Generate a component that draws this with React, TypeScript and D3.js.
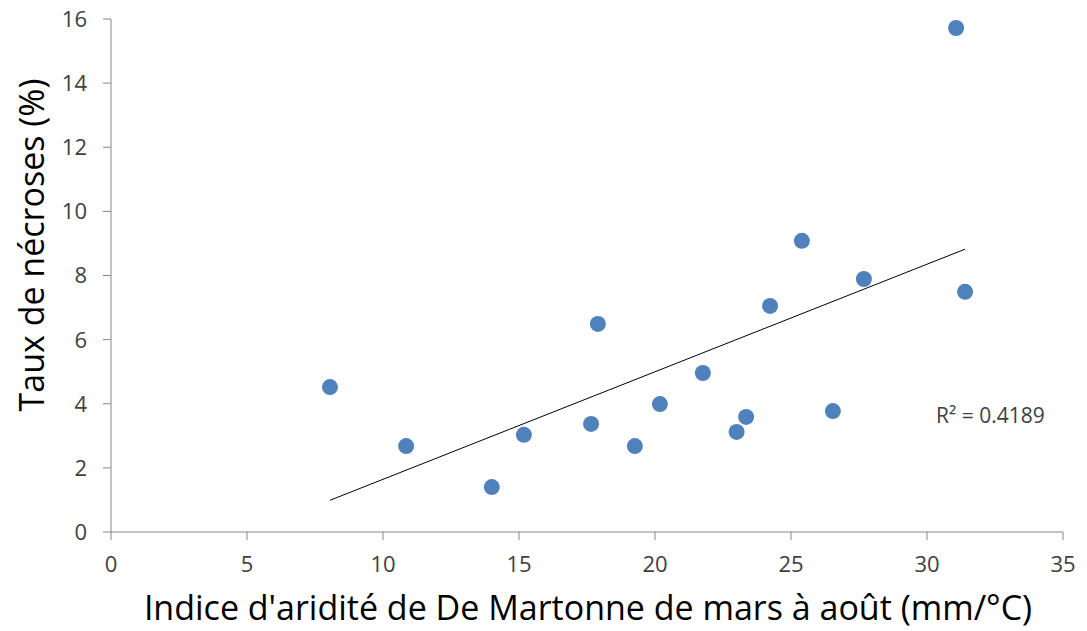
import React from "react";
import * as d3 from "d3";

// Indice d'aridité (mm/°C) and necrosis rate (%) per site
const aridity = [8.05, 10.85, 14.0, 15.18, 17.65, 17.9, 19.26, 20.18, 21.76, 23.0, 23.35, 24.23, 25.4, 26.54, 27.68, 31.07, 31.4];
const necrosis = [4.52, 2.68, 1.4, 3.03, 3.37, 6.49, 2.68, 3.99, 4.96, 3.12, 3.59, 7.05, 9.08, 3.77, 7.89, 15.72, 7.49];
const xTicks = [0, 5, 10, 15, 20, 25, 30, 35];
const yTicks = [0, 2, 4, 6, 8, 10, 12, 14, 16];
const r2Label = "R² = 0.4189";

const W = 1087;
const H = 631;
const FONT = "'Open Sans', 'Liberation Sans', sans-serif";

export default function App() {
  const x = d3.scaleLinear().domain([0, 35]).range([111, 1063]);
  const y = d3.scaleLinear().domain([0, 16]).range([532, 19]);

  // least-squares trend line
  const mx = d3.mean(aridity)!;
  const my = d3.mean(necrosis)!;
  let sxy = 0, sxx = 0;
  aridity.forEach((v, i) => {
    sxy += (v - mx) * (necrosis[i] - my);
    sxx += (v - mx) * (v - mx);
  });
  const slope = sxy / sxx;
  const icpt = my - slope * mx;
  const [x0, x1] = d3.extent(aridity) as [number, number];
  const trend = d3.line<number>().x((d) => x(d)).y((d) => y(icpt + slope * d));

  const axisColor = "#868686";
  const textColor = "#404040";

  return (
    <svg width={W} height={H} style={{ position: "absolute", left: 0, top: 0 }} fontFamily={FONT}>
      <rect width={W} height={H} fill="#fff" />
      {/* y axis */}
      <line x1={x(0)} x2={x(0)} y1={y(16)} y2={y(0)} stroke={axisColor} strokeWidth={1} />
      {yTicks.map((t) => (
        <g key={t}>
          <line x1={x(0) - 8} x2={x(0)} y1={y(t)} y2={y(t)} stroke={axisColor} />
          <text x={87} y={y(t)} dy="0.36em" textAnchor="end" fontSize={22} fill={textColor}>
            {t}
          </text>
        </g>
      ))}
      {/* x axis */}
      <line x1={x(0)} x2={x(35)} y1={y(0)} y2={y(0)} stroke={axisColor} strokeWidth={1} />
      {xTicks.map((t) => (
        <g key={t}>
          <line x1={x(t)} x2={x(t)} y1={y(0)} y2={y(0) + 8} stroke={axisColor} />
          <text x={x(t)} y={572} textAnchor="middle" fontSize={22} fill={textColor}>
            {t}
          </text>
        </g>
      ))}
      {/* trend line */}
      <path d={trend([x0, x1])!} stroke="#000" strokeWidth={1} fill="none" />
      {/* points */}
      {aridity.map((v, i) => (
        <circle key={i} cx={x(v)} cy={y(necrosis[i])} r={8} fill="#4F81BD" />
      ))}
      <text x={936} y={423} fontSize={21} fill={textColor}>
        {r2Label}
      </text>
      {/* axis titles */}
      <text x={588} y={620} textAnchor="middle" fontSize={34} fill="#000">
        Indice d'aridité de De Martonne de mars à août (mm/°C)
      </text>
      <text transform={`translate(44, 245) rotate(-90)`} textAnchor="middle" fontSize={34} fill="#000">
        Taux de nécroses (%)
      </text>
    </svg>
  );
}
